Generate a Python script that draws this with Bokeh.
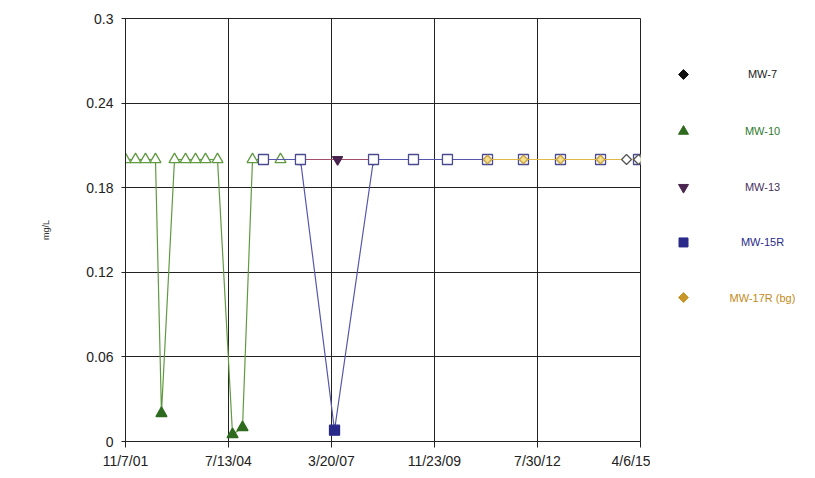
import pandas as pd
from bokeh.plotting import figure
from bokeh.layouts import row
from bokeh.models import Range1d, FixedTicker, CustomJSTickFormatter, ColumnDataSource
from bokeh.core.properties import value
from bokeh.embed import file_html
from bokeh.resources import INLINE

# ---------------- data ----------------
x_tick_labels = ["11/7/01", "7/13/04", "3/20/07", "11/23/09", "7/30/12", "4/6/15"]
y_ticks = [0, 0.06, 0.12, 0.18, 0.24, 0.3]

mw10_dates = ["2001-11-07", "2002-02-10", "2002-05-16", "2002-08-19", "2002-10-15",
              "2003-02-16", "2003-06-01", "2003-09-04", "2003-12-08", "2004-03-31",
              "2004-08-21", "2004-11-24", "2005-02-27", "2005-11-20"]
mw10_values = [0.2, 0.2, 0.2, 0.2, 0.02, 0.2, 0.2, 0.2, 0.2, 0.2, 0.005, 0.01, 0.2, 0.2]
mw10_detect = [False, False, False, False, True, False, False, False, False, False,
               True, True, False, False]

mw13_dates = ["2006-05-29", "2007-05-17", "2008-04-23"]
mw13_values = [0.2, 0.2, 0.2]
mw13_detect = [False, True, False]

mw15r_dates = ["2005-06-11", "2006-05-29", "2007-04-18", "2008-04-23", "2009-05-08",
               "2010-03-27", "2011-04-12", "2012-03-19", "2013-03-06", "2014-03-22",
               "2015-03-18"]
mw15r_values = [0.2, 0.2, 0.008, 0.2, 0.2, 0.2, 0.2, 0.2, 0.2, 0.2, 0.2]
mw15r_detect = [False, False, True, False, False, False, False, False, False, False, False]

mw17r_dates = ["2011-04-12", "2012-03-19", "2013-03-06", "2014-03-22", "2015-03-18"]
mw17r_values = [0.2, 0.2, 0.2, 0.2, 0.2]
mw17r_detect = [False, False, False, False, False]

mw7_dates = ["2014-11-24", "2015-03-18"]
mw7_values = [0.2, 0.2]
mw7_detect = [False, False]

legend_names = ["MW-7", "MW-10", "MW-13", "MW-15R", "MW-17R (bg)"]

# ---------------- helpers ----------------
def to_ms(dates, fmt=None):
    return [pd.to_datetime(d, format=fmt).value // 10**6 for d in dates]

x_ticks = to_ms(x_tick_labels, "%m/%d/%y")

FONT = "Liberation Sans"
TXT = "#222222"
DIAMOND_ANGLE = 0.7853981634

p = figure(width=650, height=476, output_backend="svg", toolbar_location=None,
           x_range=Range1d(x_ticks[0], x_ticks[-1]), y_range=Range1d(0, 0.3),
           min_border_left=125, min_border_right=10, min_border_top=18,
           min_border_bottom=35)
p.background_fill_color = "white"
p.border_fill_color = "white"
p.outline_line_color = "#222222"
p.outline_line_width = 1

p.xaxis.ticker = FixedTicker(ticks=x_ticks)
p.xaxis.major_label_overrides = {t: l for t, l in zip(x_ticks, x_tick_labels)}
p.yaxis.ticker = FixedTicker(ticks=y_ticks)
p.yaxis.formatter = CustomJSTickFormatter(code="return String(Number(tick.toFixed(2)));")
p.xgrid.ticker = FixedTicker(ticks=x_ticks)
p.ygrid.ticker = FixedTicker(ticks=y_ticks)
for g in (p.xgrid, p.ygrid):
    g.grid_line_color = "#222222"
    g.grid_line_width = 1
    g.grid_line_alpha = 1

for ax in (p.xaxis, p.yaxis):
    ax.axis_line_color = "#222222"
    ax.major_tick_line_color = "#222222"
    ax.minor_tick_line_color = None
    ax.major_label_text_font = FONT
    ax.major_label_text_font_size = "14px"
    ax.major_label_text_color = TXT
p.xaxis.major_tick_in = 0
p.xaxis.major_tick_out = 6
p.xaxis.major_label_standoff = 5
p.yaxis.major_tick_in = 4
p.yaxis.major_tick_out = 4
p.yaxis.major_label_standoff = 8
p.yaxis.axis_label = "mg/L"
p.yaxis.axis_label_text_font = FONT
p.yaxis.axis_label_text_font_size = "9px"
p.yaxis.axis_label_text_font_style = "normal"
p.yaxis.axis_label_text_color = "#333333"
p.yaxis.axis_label_standoff = 32


def series(dates, values, detect, line_color, mcolor, edge, marker, size,
           open_fill="white", angle=0.0):
    xs = to_ms(dates)
    fills = [mcolor if d else open_fill for d in detect]
    edges = [mcolor if d else edge for d in detect]
    src = ColumnDataSource(dict(x=xs, y=values, f=fills, e=edges))
    if line_color is not None:
        p.line("x", "y", source=src, line_color=line_color, line_width=1.2)
    p.scatter("x", "y", source=src, marker=marker, size=size, fill_color="f",
              line_color="e", line_width=1.3, angle=angle)

C7, C10, C13, C15, C17 = "#111111", "#2e6b1f", "#4a2550", "#2a2a8a", "#c9962a"

series(mw10_dates, mw10_values, mw10_detect, "#5f9a42", C10, "#5f9a42", "triangle", 11)
series(mw13_dates, mw13_values, mw13_detect, "#a0506a", C13, "#6a3a6a", "inverted_triangle", 10)
series(mw15r_dates, mw15r_values, mw15r_detect, "#5656aa", C15, "#4a4a90", "square", 10)
series(mw17r_dates, mw17r_values, mw17r_detect, "#e0b848", C17, "#c9a040", "square", 6,
       open_fill="#f4e08c", angle=DIAMOND_ANGLE)
series(mw7_dates, mw7_values, mw7_detect, None, C7, "#555555", "square", 7,
       angle=DIAMOND_ANGLE)

# ---------------- legend panel ----------------
leg = figure(width=160, height=476, output_backend="svg", toolbar_location=None,
             x_range=Range1d(0, 160), y_range=Range1d(476, 0),
             min_border_left=0, min_border_right=0, min_border_top=0, min_border_bottom=0)
leg.axis.visible = False
leg.grid.visible = False
leg.outline_line_color = None
leg.background_fill_color = "white"
leg.border_fill_color = "white"

leg_y = [63, 127, 190, 252, 314]
leg_markers = ["square", "triangle", "inverted_triangle", "square", "square"]
leg_angles = [DIAMOND_ANGLE, 0.0, 0.0, 0.0, DIAMOND_ANGLE]
leg_sizes = [7, 10, 10, 9, 7]
leg_colors = [C7, C10, C13, C15, C17]
leg_text_colors = ["#222222", "#2e7a2e", "#4a3060", "#2a2a8a", "#c48a20"]
lsrc = ColumnDataSource(dict(x=[33] * 5, tx=[112] * 5, y=leg_y, m=leg_markers,
                             a=leg_angles, s=leg_sizes,
                             c=leg_colors, tc=leg_text_colors, t=legend_names))
leg.scatter("x", "y", source=lsrc, marker="m", size="s", angle="a",
            fill_color="c", line_color="c")
leg.text("tx", "y", text="t", source=lsrc, text_color="tc", text_align="center",
         text_baseline="middle", text_font_size="11px", text_font=value(FONT))

layout = row(p, leg)
open("out.html", "w").write(file_html(layout, INLINE))
